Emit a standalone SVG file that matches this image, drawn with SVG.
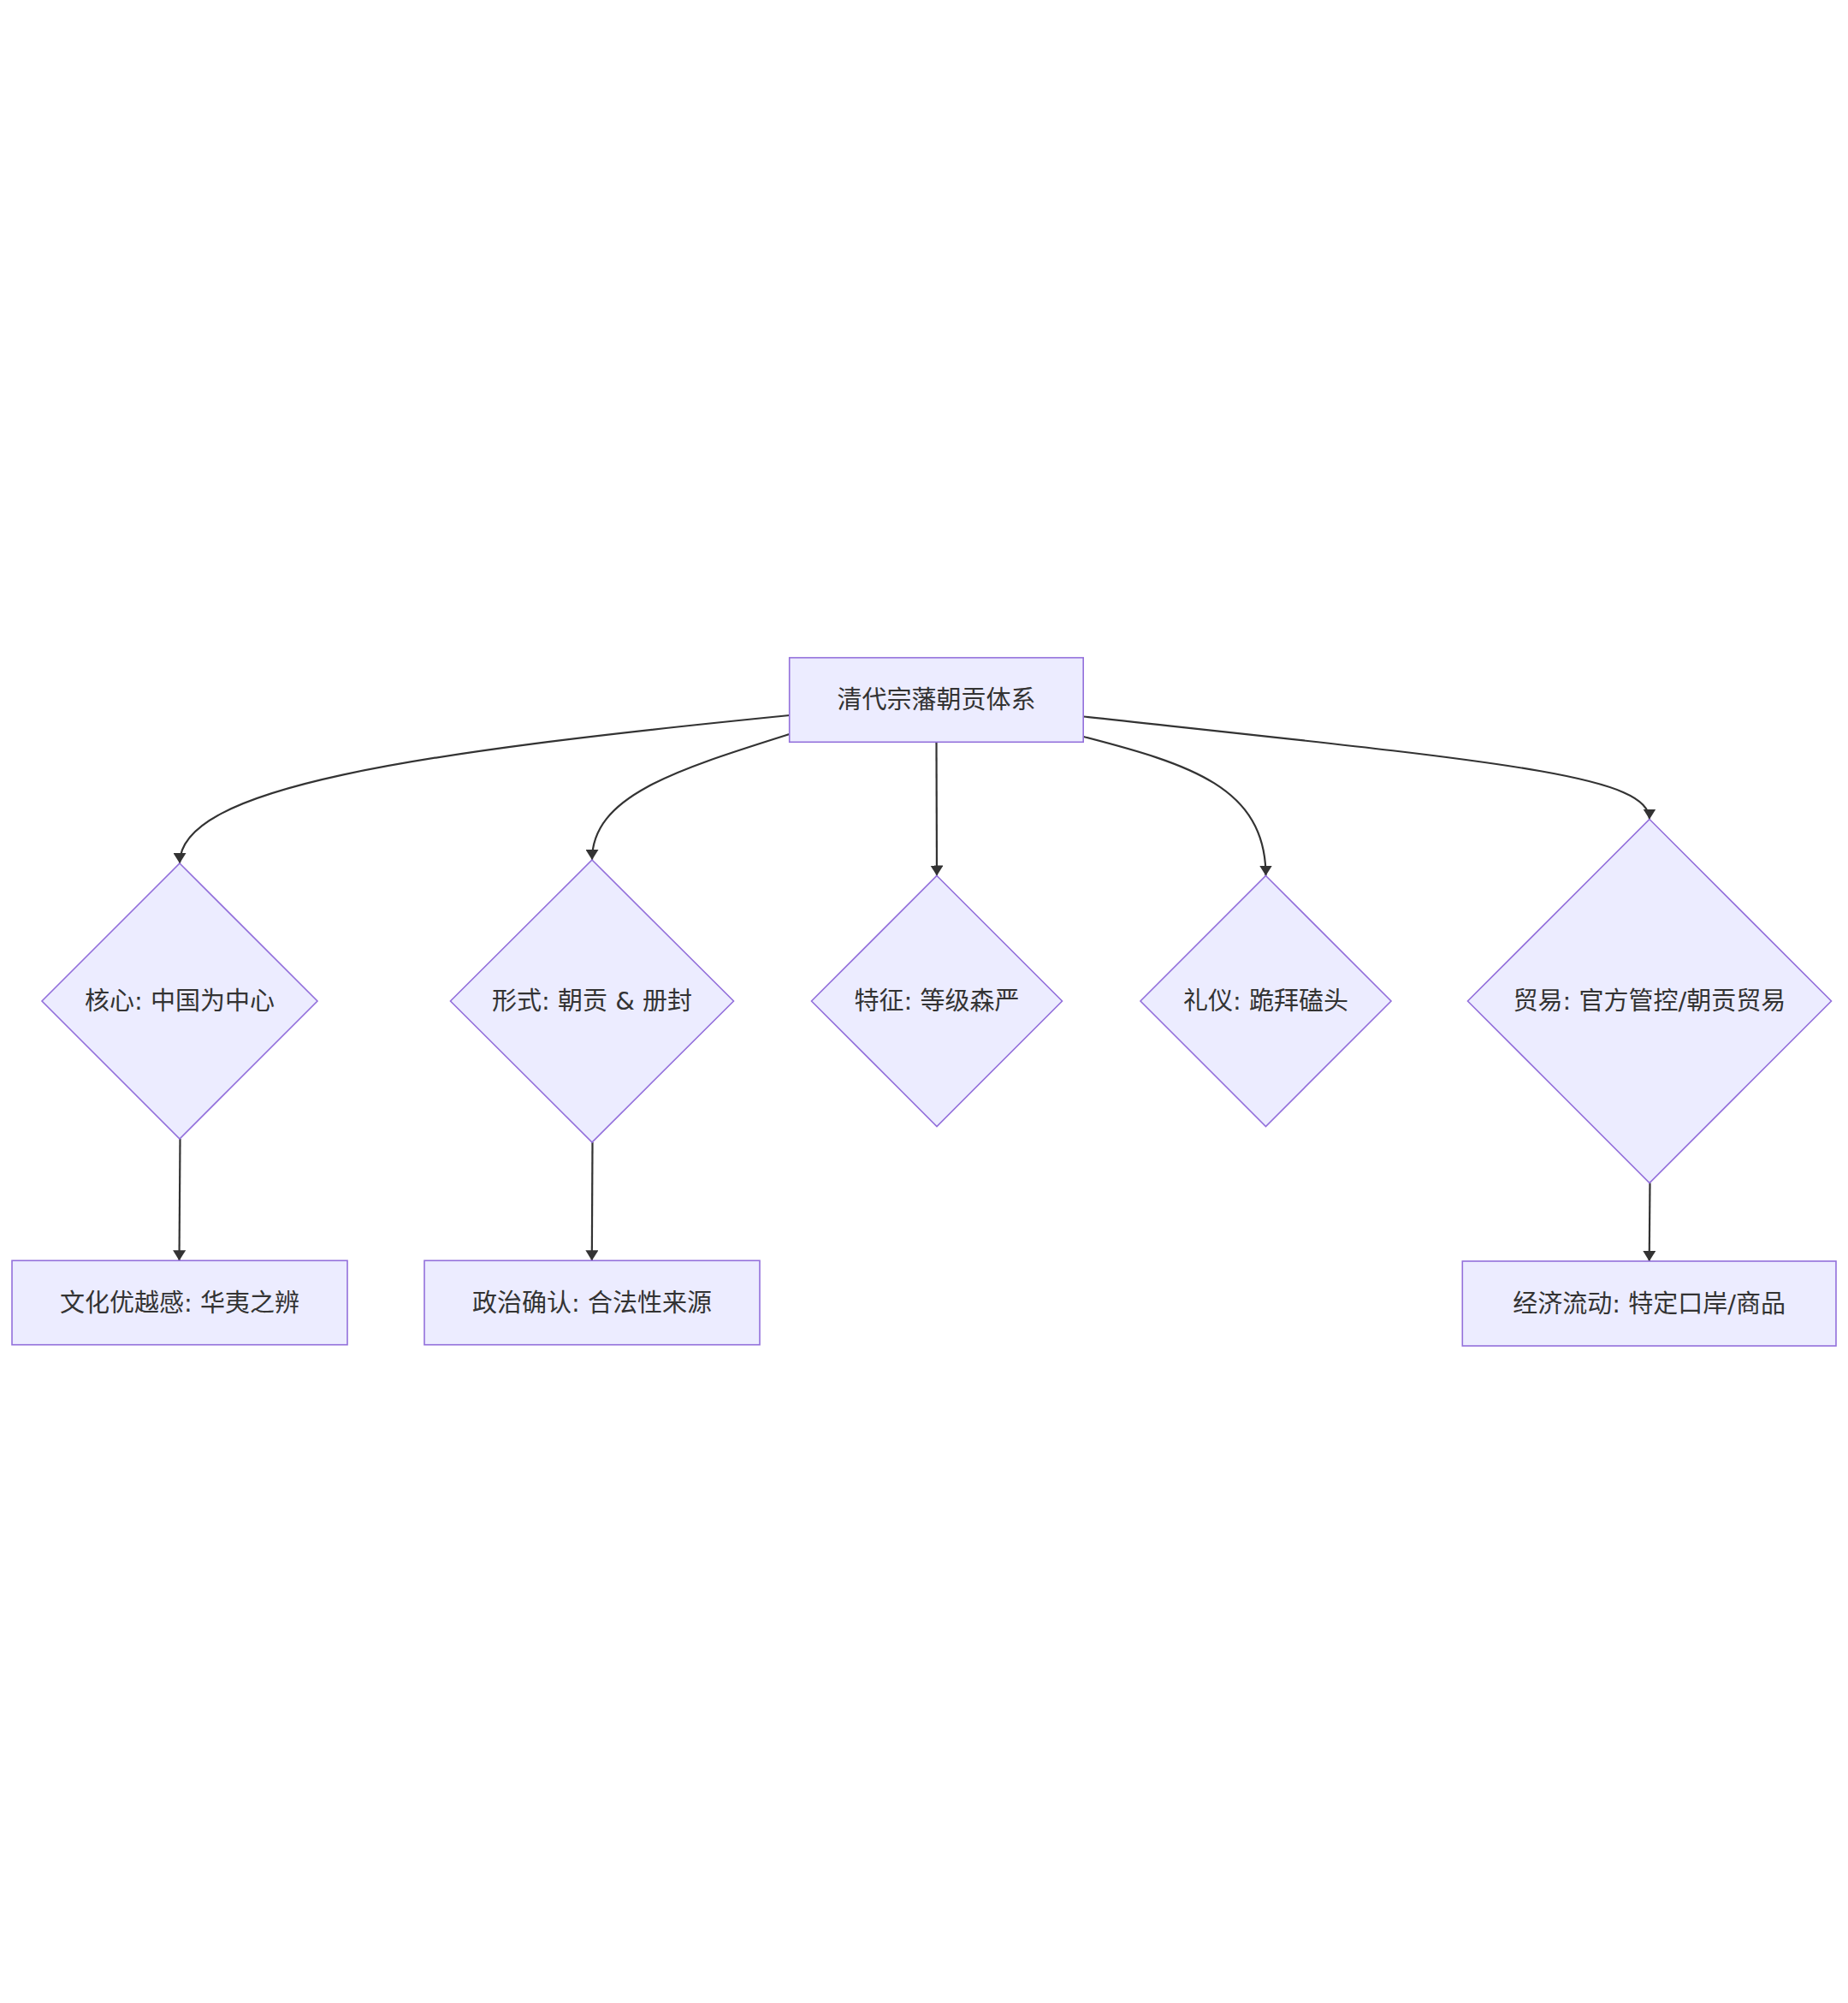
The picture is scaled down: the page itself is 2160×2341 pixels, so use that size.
<svg xmlns="http://www.w3.org/2000/svg" width="2160" height="2341" viewBox="0 0 2160 2341">
<style>
.node rect, .node polygon { fill: #ECECFF; stroke: #9370DB; stroke-width: 1.6; }
.node text { font-family: "DejaVu Sans", "Noto Sans CJK SC", sans-serif; font-size: 29px; fill: #333333; text-anchor: middle; dominant-baseline: central; }
.edge { fill: none; stroke: #333333; stroke-width: 2.2; marker-end: url(#arrow); }
</style>
<defs>
<marker id="arrow" markerUnits="userSpaceOnUse" viewBox="0 0 12 15" refX="12" refY="7.5" markerWidth="12" markerHeight="15" orient="auto">
<path d="M0,0 L12,7.5 L0,15 z" fill="#333333"/>
</marker>
</defs>
<rect x="0" y="0" width="2160" height="2341" fill="#ffffff"/>
<g id="connectors">
<path class="edge" d="M923,836 C480,880 210,920 210,1009"/>
<path class="edge" d="M923,858 C790,900 692,930 692,1005"/>
<path class="edge" d="M1094.5,867 L1095,1023.5"/>
<path class="edge" d="M1266.5,861 C1390,893 1479.5,920 1479.5,1023.5"/>
<path class="edge" d="M1266.5,837.5 C1750,890 1928,905 1928,957.5"/>
<path class="edge" d="M210.5,1331 L209.5,1473.3"/>
<path class="edge" d="M692.5,1335 L691.8,1473.3"/>
<path class="edge" d="M1928.5,1382.5 L1927.7,1474"/>
</g>
<g id="node-root" class="node">
<rect x="922.7" y="768.7" width="343.5" height="98.6"/>
<text x="1094.5" y="818">清代宗藩朝贡体系</text>
</g>
<g id="node-core" class="node">
<polygon points="210,1009 371,1170 210,1331 49,1170"/>
<text x="210" y="1170">核心: 中国为中心</text>
</g>
<g id="node-form" class="node">
<polygon points="692,1005 857.5,1170 692,1335 526.5,1170"/>
<text x="692" y="1170">形式: 朝贡 &amp; 册封</text>
</g>
<g id="node-feature" class="node">
<polygon points="1095,1023.5 1241.5,1170 1095,1316.5 948.5,1170"/>
<text x="1095" y="1170">特征: 等级森严</text>
</g>
<g id="node-ritual" class="node">
<polygon points="1479.5,1023.5 1626,1170 1479.5,1316.5 1333,1170"/>
<text x="1479.5" y="1170">礼仪: 跪拜磕头</text>
</g>
<g id="node-trade" class="node">
<polygon points="1928,957.5 2140.5,1170 1928,1382.5 1715.5,1170"/>
<text x="1928" y="1170">贸易: 官方管控/朝贡贸易</text>
</g>
<g id="node-culture" class="node">
<rect x="14" y="1473.3" width="392" height="98.4"/>
<text x="210" y="1522.5">文化优越感: 华夷之辨</text>
</g>
<g id="node-politics" class="node">
<rect x="496" y="1473.3" width="392" height="98.4"/>
<text x="692" y="1522.5">政治确认: 合法性来源</text>
</g>
<g id="node-economy" class="node">
<rect x="1709.3" y="1474" width="436.7" height="99"/>
<text x="1927.7" y="1523.5">经济流动: 特定口岸/商品</text>
</g>
</svg>
